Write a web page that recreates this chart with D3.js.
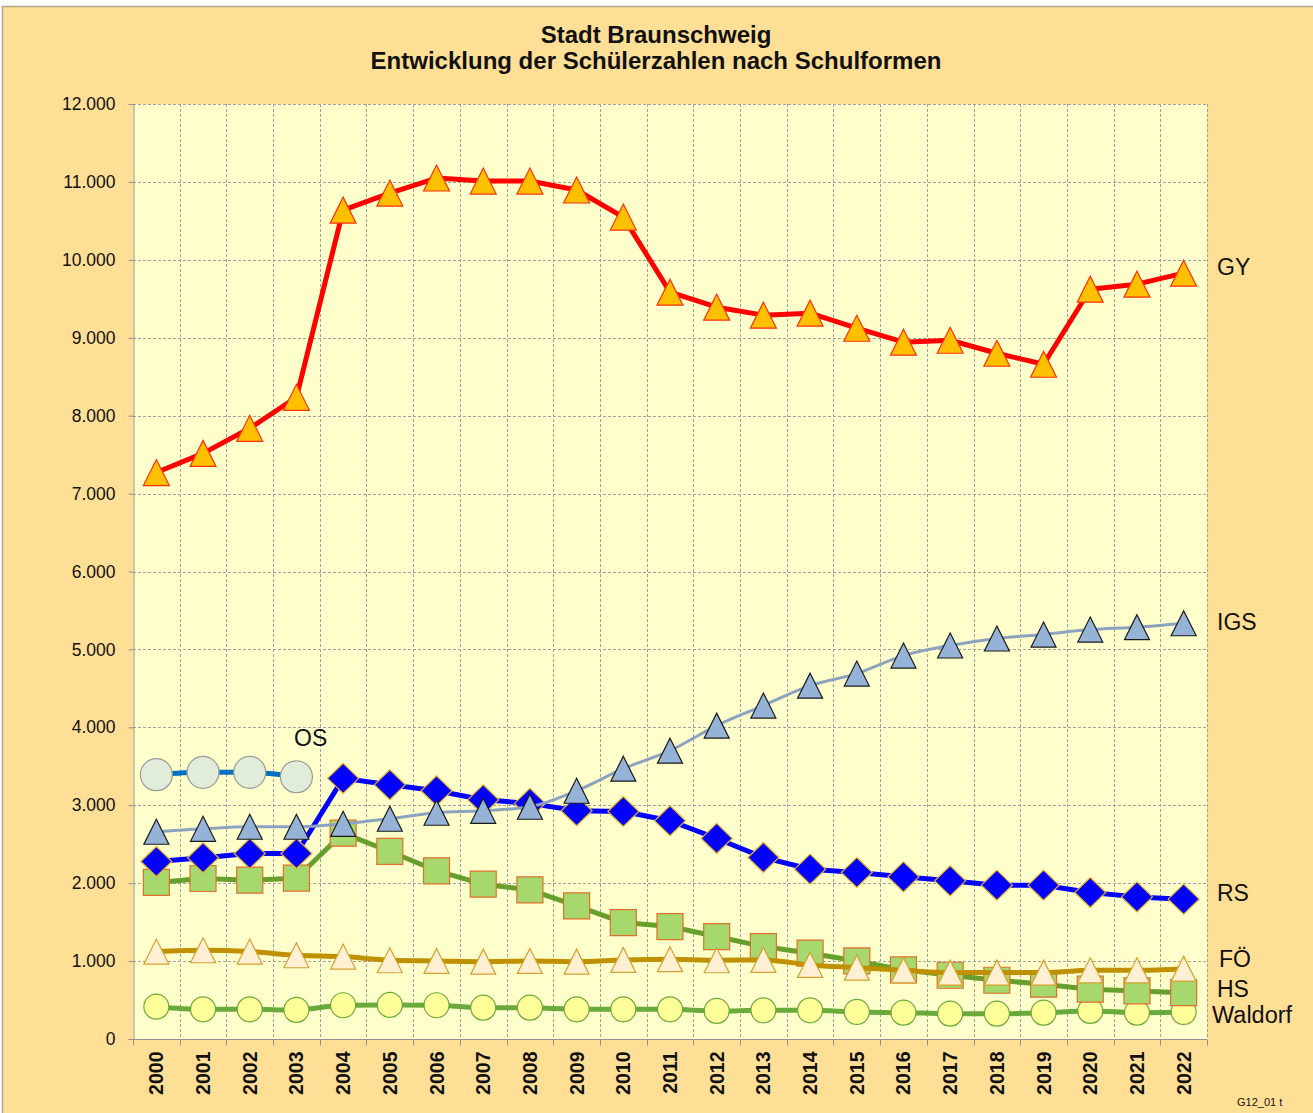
<!DOCTYPE html>
<html><head><meta charset="utf-8">
<script src="https://cdn.jsdelivr.net/npm/d3@7"></script>
<style>
html,body{margin:0;padding:0;background:#fff;}
svg{display:block;font-family:"Liberation Sans",Arial,sans-serif;}
</style></head>
<body>
<svg id="chart" width="1313" height="1113"></svg>
<script>
const years = ["2000","2001","2002","2003","2004","2005","2006","2007","2008","2009","2010","2011","2012","2013","2014","2015","2016","2017","2018","2019","2020","2021","2022"];
const yTicks = [0,1000,2000,3000,4000,5000,6000,7000,8000,9000,10000,11000,12000];
const GY = [7270,7516,7838,8236,10638,10857,11050,11011,11011,10896,10549,9585,9392,9290,9315,9122,8943,8968,8801,8660,9623,9688,9829];
const IGS = [2660,2698,2724,2724,2762,2827,2904,2929,2981,3186,3469,3700,4022,4279,4535,4690,4921,5050,5140,5191,5255,5285,5336];
const RS = [2278,2326,2381,2381,3345,3263,3186,3071,3024,2929,2920,2801,2574,2330,2180,2137,2081,2030,1974,1974,1880,1824,1795];
const HS = [2009,2060,2039,2064,2643,2407,2159,1987,1914,1709,1494,1443,1315,1186,1101,1002,887,818,754,703,639,617,595];
const FOE = [1122,1139,1122,1075,1058,1011,1002,993,1002,993,1015,1024,1011,1015,951,916,882,852,852,852,882,882,903];
const WALDORF = [415,381,381,373,433,437,433,402,402,381,381,381,360,368,368,347,338,325,325,338,360,338,347];
const OS = [3392,3422,3422,3366];
const OSyears = ["2000","2001","2002","2003"];

const svg = d3.select("#chart");
const W = 1313, H = 1113;
const L = 133, R = 1207, T = 104, B = 1039;

// frame
svg.append("rect").attr("x",0).attr("y",0).attr("width",W).attr("height",H).attr("fill","#ffffff");
svg.append("rect").attr("x",2.5).attr("y",6.5).attr("width",W).attr("height",H).attr("fill","#FFDF96").attr("stroke","#b0a48a").attr("stroke-width",1.5);

// title
svg.append("text").attr("x",656).attr("y",43).attr("text-anchor","middle").attr("font-weight","bold").attr("font-size",24).attr("fill","#111").text("Stadt Braunschweig");
svg.append("text").attr("x",656).attr("y",69).attr("text-anchor","middle").attr("font-weight","bold").attr("font-size",24).attr("fill","#111").text("Entwicklung der Schülerzahlen nach Schulformen");

const x = d3.scaleBand().domain(years).range([L,R]).paddingInner(0).paddingOuter(0);
const cx = d => x(d) + x.bandwidth()/2;
const y = d3.scaleLinear().domain([0,12000]).range([B,T]);

// plot area
svg.append("rect").attr("x",L).attr("y",T).attr("width",R-L).attr("height",B-T).attr("fill","#FFFFCC");

// gridlines
const grid = svg.append("g").attr("stroke","#a0a0a0").attr("stroke-width",1).attr("stroke-dasharray","3,2");
yTicks.filter(t=>t>0).forEach(t=>{
  grid.append("line").attr("x1",L).attr("x2",R).attr("y1",Math.round(y(t))+0.5).attr("y2",Math.round(y(t))+0.5);
});
years.slice(1).forEach(yr=>{
  const xx = Math.round(x(yr))+0.5;
  grid.append("line").attr("x1",xx).attr("x2",xx).attr("y1",T).attr("y2",B);
});
grid.append("line").attr("x1",R+0.5).attr("x2",R+0.5).attr("y1",T).attr("y2",B);

// axes
const yAxis = d3.axisLeft(y).tickValues(yTicks).tickSize(5).tickPadding(13)
  .tickFormat(d => d3.format(",")(d).replace(/,/g,"."));
const gy = svg.append("g").attr("transform",`translate(${L+0.5},0)`).call(yAxis);
gy.select(".domain").attr("stroke","#909090");
gy.selectAll(".tick line").attr("stroke","#909090");
gy.selectAll(".tick text").attr("font-size",17.5).attr("fill","#111").attr("font-family","Liberation Sans, Arial, sans-serif");

const xb = svg.append("g").attr("transform",`translate(0,${B+0.5})`);
xb.append("line").attr("x1",L).attr("x2",R).attr("stroke","#909090");
years.concat(["end"]).forEach((yr,i)=>{
  const xx = Math.round(L + i*x.bandwidth())+0.5;
  xb.append("line").attr("x1",xx).attr("x2",xx).attr("y1",0).attr("y2",6).attr("stroke","#909090");
});
years.forEach(yr=>{
  xb.append("text").attr("transform",`translate(${cx(yr)+7},12) rotate(-90)`).attr("text-anchor","end")
    .attr("font-weight","bold").attr("font-size",19.5).attr("fill","#111").text(yr);
});

// marker shapes
function triPath(w,h){ return `M0,${-h/2}L${w/2},${h/2}L${-w/2},${h/2}Z`; }
function diamondPath(w,h){ return `M0,${-h/2}L${w/2},0L0,${h/2}L${-w/2},0Z`; }
function squarePath(s){ return `M${-s/2},${-s/2}H${s/2}V${s/2}H${-s/2}Z`; }

function series(vals, yrs, opt){
  const g = svg.append("g");
  const line = d3.line().x((d,i)=>cx(yrs[i])).y(d=>y(d)).curve(opt.curve || d3.curveLinear);
  g.append("path").datum(vals).attr("d",line).attr("fill","none").attr("stroke",opt.line)
    .attr("stroke-width",opt.lw).attr("stroke-linejoin","round");
  vals.forEach((v,i)=>{
    const px = cx(yrs[i]), py = y(v);
    if(opt.shape==="circle"){
      g.append("circle").attr("cx",px).attr("cy",py).attr("r",opt.r).attr("fill",opt.fill).attr("stroke",opt.stroke).attr("stroke-width",1.2);
    } else {
      g.append("path").attr("transform",`translate(${px},${py})`).attr("d",opt.path).attr("fill",opt.fill).attr("stroke",opt.stroke).attr("stroke-width",1.2);
    }
  });
}

series(WALDORF, years, {line:"#6aaa3c", lw:5, curve:d3.curveMonotoneX, shape:"circle", r:12.5, fill:"#FFFF99", stroke:"#6aaa3c"});
series(HS, years, {line:"#66a02c", lw:5, shape:"path", path:squarePath(26), fill:"#A6D86E", stroke:"#E0702A"});
series(RS, years, {line:"#0000FF", lw:5, shape:"path", path:diamondPath(31,30), fill:"#0000FF", stroke:"#E8B020"});
series(IGS, years, {line:"#8CA3C0", lw:3, curve:d3.curveMonotoneX, shape:"path", path:triPath(25,25), fill:"#95B3D7", stroke:"#1a1a1a"});
series(FOE, years, {line:"#BF9000", lw:5, curve:d3.curveMonotoneX, shape:"path", path:triPath(25,25), fill:"#FFF0D4", stroke:"#D4A030"});
series(GY, years, {line:"#FF0000", lw:5, shape:"path", path:triPath(26,26), fill:"#FFC000", stroke:"#FF3010"});
series(OS, OSyears, {line:"#0070C0", lw:5, curve:d3.curveMonotoneX, shape:"circle", r:16, fill:"#E0EDD8", stroke:"#9a9a9a"});

// series labels
const lab = [["GY",1217,275],["IGS",1217,630],["RS",1217,901],["FÖ",1219,967],["HS",1217,997],["Waldorf",1212,1023],["OS",294,746]];
lab.forEach(l=>{
  svg.append("text").attr("x",l[1]).attr("y",l[2]).attr("font-size", l[0]==="Waldorf"?23.5:23).attr("fill","#111").text(l[0]);
});

svg.append("text").attr("x",1237).attr("y",1106).attr("font-size",11).attr("fill","#111").text("G12_01 t");
</script>
</body></html>
